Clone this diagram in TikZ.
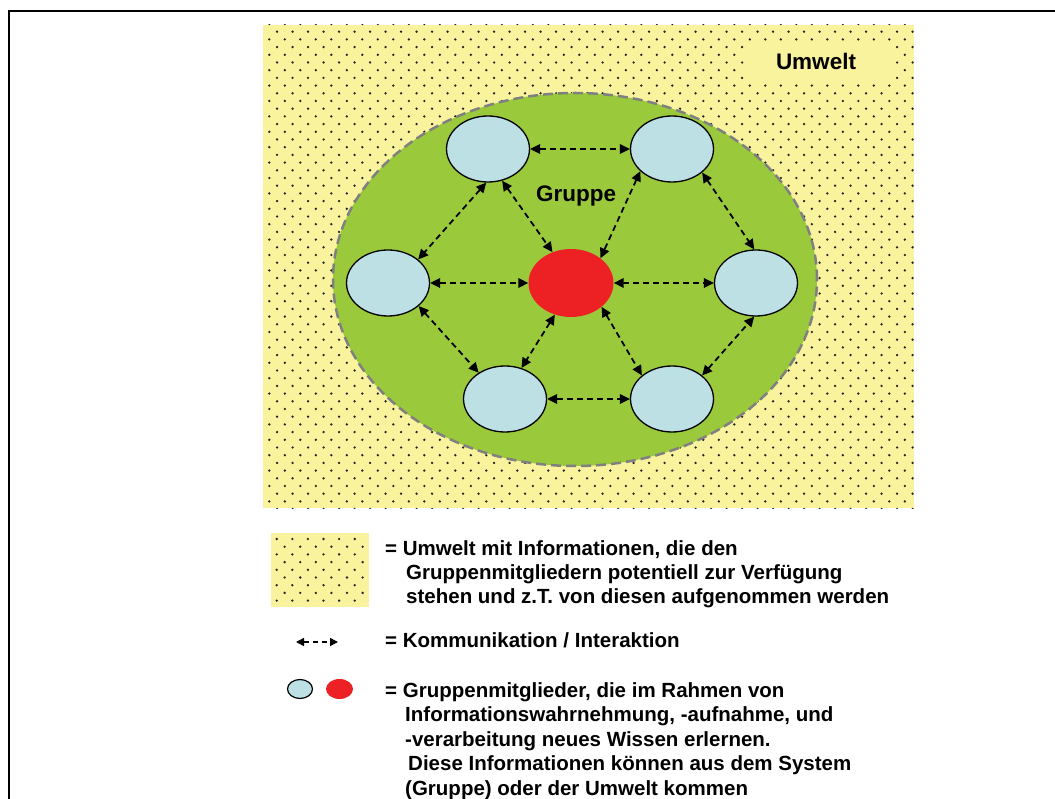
\documentclass[tikz,border=0pt]{standalone}
\usepackage{fontspec}
\setmainfont{Liberation Sans}
\usetikzlibrary{arrows.meta,shapes.geometric}
\definecolor{envyellow}{RGB}{250,243,158}
\definecolor{groupgreen}{RGB}{154,202,60}
\definecolor{memberblue}{RGB}{188,224,228}
\definecolor{memberred}{RGB}{237,32,36}
\definecolor{dotgray}{RGB}{35,35,35}
\definecolor{rimgray}{RGB}{128,128,128}
\begin{document}
\begin{tikzpicture}[x=1pt,y=-1pt,
  member/.style={ellipse, draw=black, line width=1.3pt, fill=memberblue,
    minimum width=83pt, minimum height=66pt, inner sep=0pt},
  core/.style={ellipse, fill=memberred, minimum width=85pt, minimum height=68pt, inner sep=0pt},
  comm/.style={line width=1.8pt, dash pattern=on 6pt off 4pt,
    {Triangle[length=10pt,width=9.5pt]}-{Triangle[length=10pt,width=9.5pt]}},
  head/.style={font=\fontsize{22.5}{26}\selectfont\bfseries, inner sep=0pt},
  legend/.style={font=\fontsize{20.5}{24}\selectfont\bfseries, inner sep=0pt, anchor=base west},
]
\useasboundingbox (0,0) rectangle (1055,799);

% page frame (top and left edges)
\draw[line width=1.5pt] (9,801) -- (9,11) -- (1057,11);

% environment: dotted yellow field
\fill[envyellow] (263,25) rectangle (914,508);
\begin{scope}
  \clip (263,25) rectangle (914,508);
  \foreach \j in {0,...,63} {
    \pgfmathsetmacro\yy{24+7.7*\j}
    \pgfmathsetmacro\xx{269.3+7.75*mod(\j,2)}
    \foreach \i in {0,...,41}
      \fill[dotgray] (\xx+15.5*\i,\yy) circle[radius=1.3pt];
  }
\end{scope}

% label box of the environment
\node[fill=envyellow, minimum width=147pt, minimum height=37pt, inner sep=0pt] (envbox) at (819.5,61.5) {};
\node[head, anchor=base] (envlabel) at (816,69.5) {Umwelt};

% the group
\node[ellipse, fill=groupgreen, draw=rimgray, line width=2.5pt, dash pattern=on 10pt off 5pt,
  minimum width=484pt, minimum height=373pt, inner sep=0pt] (grp) at (575,279.5) {};
\node[head, anchor=base] (grplabel) at (576,202) {Gruppe};

% group members
\node[member] (tl) at (488,149) {};
\node[member] (tr) at (672,149) {};
\node[member] (l)  at (388,283) {};
\node[core]   (c)  at (571,283) {};
\node[member] (r)  at (756,283) {};
\node[member] (bl) at (505,399) {};
\node[member] (br) at (672,399) {};

% communication links
\draw[comm] (tl.east) -- (tr.west);
\draw[comm] (tl.-93) -- (l.38);
\draw[comm] (tl.-66) -- (c.121);
\draw[comm] (tr.-145) -- (c.40);
\draw[comm] (tr.-38) -- (r.93);
\draw[comm] (l.east) -- (c.west);
\draw[comm] (c.east) -- (r.west);
\draw[comm] (l.-37) -- (bl.135);
\draw[comm] (c.-117) -- (bl.62);
\draw[comm] (c.-38) -- (br.142);
\draw[comm] (br.38) -- (r.-93);
\draw[comm] (bl.east) -- (br.west);

% legend: environment
\fill[envyellow] (271,533) rectangle (369,607);
\begin{scope}
  \clip (271,533) rectangle (369,607);
  \foreach \j in {0,...,8} {
    \pgfmathsetmacro\yy{539+7.7*\j}
    \pgfmathsetmacro\xx{276.7+7.9*mod(\j,2)}
    \foreach \i in {0,...,6}
      \fill[dotgray] (\xx+15.6*\i,\yy) circle[radius=1.3pt];
  }
\end{scope}
\node[legend] (lg1a) at (385,555) {= Umwelt mit Informationen, die den};
\node[legend] (lg1b) at (406,579) {Gruppenmitgliedern potentiell zur Verfügung};
\node[legend] (lg1c) at (406,603) {stehen und z.T. von diesen aufgenommen werden};

% legend: communication
\coordinate (ka) at (296,642);
\coordinate (kb) at (338,642);
\draw[line width=1.6pt, dash pattern=on 5pt off 4pt,
  {Triangle[length=8pt,width=8pt]}-{Triangle[length=8pt,width=8pt]}] (ka) -- (kb);
\node[legend] (lg2) at (385,647) {= Kommunikation / Interaktion};

% legend: members
\node[ellipse, draw=black, line width=1.2pt, fill=memberblue, minimum width=25pt, minimum height=19pt, inner sep=0pt] (lgb) at (300,689) {};
\node[ellipse, fill=memberred, minimum width=27pt, minimum height=20pt, inner sep=0pt] (lgr) at (339.5,689) {};
\node[legend] (lg3a) at (385,697) {= Gruppenmitglieder, die im Rahmen von};
\node[legend] (lg3b) at (405,721.5) {Informationswahrnehmung, -aufnahme, und};
\node[legend] (lg3c) at (405,746) {-verarbeitung neues Wissen erlernen.};
\node[legend] (lg3d) at (408,770.5) {Diese Informationen können aus dem System};
\node[legend] (lg3e) at (405,795) {(Gruppe) oder der Umwelt kommen};
\end{tikzpicture}
\end{document}
